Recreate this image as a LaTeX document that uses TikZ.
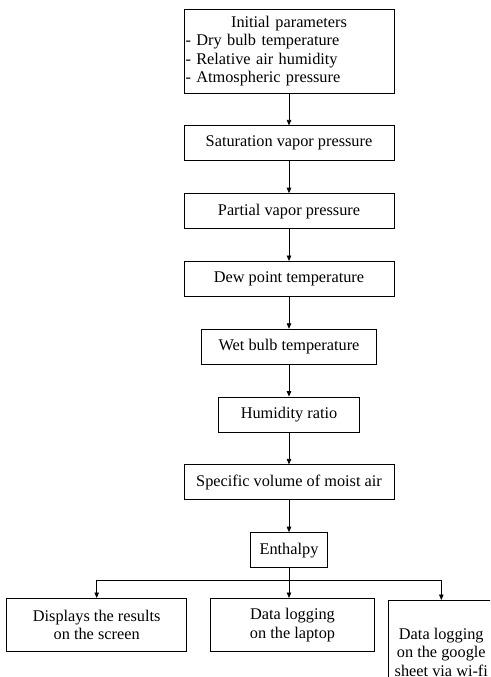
\documentclass[tikz,border=0pt]{standalone}
\usepackage{fontspec}
\setmainfont{Liberation Serif}
\usetikzlibrary{arrows.meta, positioning}

\begin{document}
\begin{tikzpicture}[node distance=32pt,
    font=\fontsize{16.3}{18.5}\selectfont,
    block/.style={draw, line width=0.8pt, minimum height=35pt, inner sep=1.5pt, align=center},
    flow/.style={line width=0.8pt, -{Triangle[length=5.5pt, width=4.5pt]}}]
    \clip (0,0) rectangle (490pt,-677pt);

    \node[block, minimum height=84pt, text width=207pt, align=left] (init) at (289pt,-51pt)
        {\hfil Initial parameters\hfil\\ - Dry bulb temperature\\ - Relative air humidity\\ - Atmospheric pressure};
    \node[block, minimum width=210pt] (sat) [below=of init] {Saturation vapor pressure};
    \node[block, minimum width=210pt] (part) [below=of sat] {Partial vapor pressure};
    \node[block, minimum width=210pt] (dew) [below=of part] {Dew point temperature};
    \node[block, minimum width=175pt] (wet) [below=of dew] {Wet bulb temperature};
    \node[block, minimum width=141pt] (ratio) [below=of wet] {Humidity ratio};
    \node[block, minimum width=210pt] (vol) [below=of ratio] {Specific volume of moist air};
    \node[block, minimum width=77pt] (enth) [below=of vol] {Enthalpy};

    \node[block, minimum width=164pt, minimum height=53pt] (lap) [below=30pt of enth, xshift=3.5pt] {Data logging\\ on the laptop};
    \node[block, minimum width=180pt, minimum height=53pt] (scr) [left=23pt of lap] {Displays the results\\ on the screen};
    \node[block, minimum width=106pt, minimum height=104pt, anchor=north west] (sheet)
        at ([xshift=13pt, yshift=-2pt]lap.north east) {Data logging\\ on the google\\ sheet via wi-fi};

    \path[flow]
    (init) edge (sat)
    (sat) edge (part)
    (part) edge (dew)
    (dew) edge (wet)
    (wet) edge (ratio)
    (ratio) edge (vol)
    (vol) edge (enth);

    \coordinate[below=12pt of enth.south] (split);
    \draw[flow] (enth.south) -- (enth.south |- lap.north);
    \draw[flow] (split) -| (scr.north);
    \draw[flow] (split) -| (sheet.north);
\end{tikzpicture}
\end{document}
